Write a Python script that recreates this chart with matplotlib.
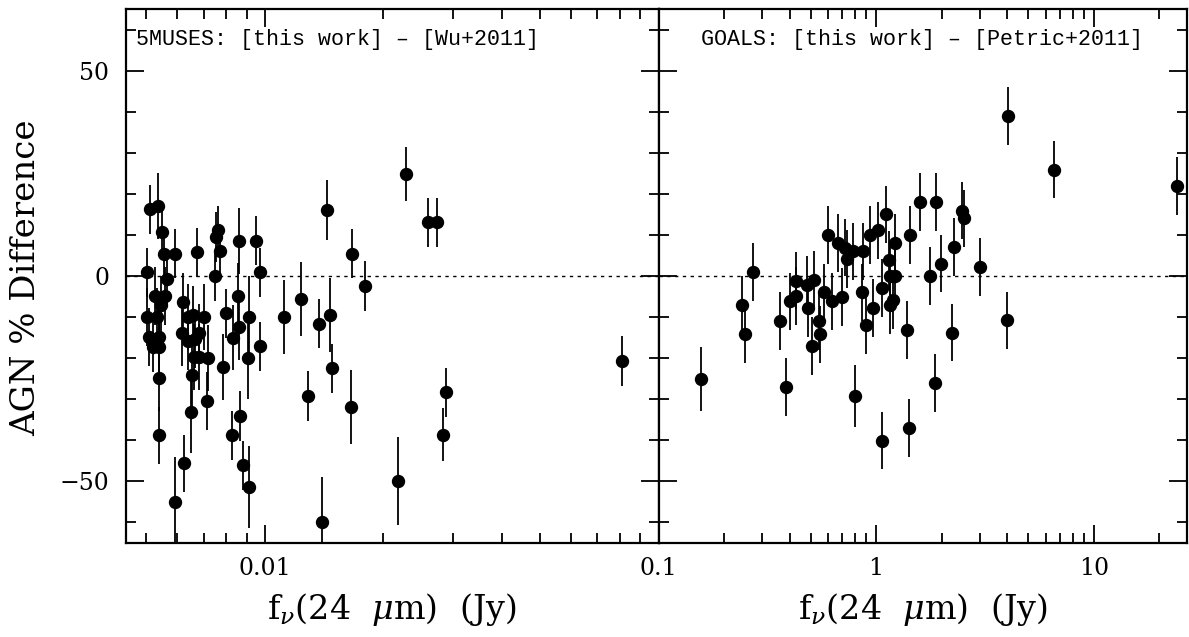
import matplotlib
matplotlib.use("Agg")
import matplotlib.pyplot as plt
from matplotlib.ticker import FixedLocator, NullFormatter, FixedFormatter

plt.rcParams['font.family'] = ['DejaVu Serif']
plt.rcParams['mathtext.fontset'] = 'dejavuserif'

# ---- 5MUSES panel data ----
muses_flux = [0.00502, 0.00512, 0.00538, 0.00549, 0.00556, 0.00593, 0.00565, 0.00528,
              0.00559, 0.00545, 0.00502, 0.00533, 0.00620, 0.00672, 0.00750, 0.00752,
              0.00760, 0.00773, 0.00860, 0.00950, 0.00974, 0.00855, 0.00797, 0.00915,
              0.01122, 0.01240, 0.00974, 0.00638, 0.00658, 0.00703, 0.00617, 0.00638,
              0.00683, 0.00665, 0.00830, 0.00860, 0.00510, 0.00540, 0.00520, 0.00540,
              0.00664, 0.00680, 0.00717, 0.00906, 0.00783, 0.00539, 0.00654, 0.00713,
              0.00650, 0.00867, 0.00539, 0.00827, 0.00625, 0.00883, 0.00912, 0.00593,
              0.01290, 0.01377, 0.01442, 0.01466, 0.01486, 0.01403, 0.01670, 0.01656,
              0.01800, 0.02180, 0.02280, 0.02600, 0.02740, 0.02880, 0.02840, 0.08100]
muses_diff = [0.9, 16.2, 17.1, 10.6, 5.4, 5.4, -0.8, -4.9,
              -4.9, -7.1, -10.0, -10.0, -6.3, 5.8, 0.0, 9.5,
              11.1, 6.0, 8.6, 8.6, 0.9, -4.9, -9.1, -10.0,
              -10.0, -5.6, -17.1, -10.0, -9.4, -10.0, -13.9, -15.8,
              -13.9, -15.3, -15.0, -12.4, -14.9, -14.9, -17.3, -17.3,
              -19.8, -19.8, -20.0, -20.0, -22.2, -24.9, -24.1, -30.4,
              -33.1, -34.1, -38.8, -38.8, -45.6, -46.1, -51.4, -55.1,
              -29.2, -11.6, 16.0, -9.4, -22.5, -59.9, 5.4, -31.8,
              -2.4, -49.9, 24.8, 13.1, 13.1, -28.3, -38.6, -20.7]
muses_err = [6, 6, 8, 6, 6, 6, 6, 7,
             7, 7, 7, 7, 7, 6, 6, 6,
             6, 6, 8, 6, 6, 8, 6, 10,
             9, 9, 6, 8, 7, 8, 8, 7,
             7, 7, 8, 8, 7, 7, 6, 6,
             8, 8, 8, 10, 8, 8, 8, 7,
             10, 6, 7, 6, 7, 6, 10, 11,
             6, 6, 7.3, 9, 6, 11, 6, 9,
             6, 10.8, 6.6, 6, 6, 6, 6.5, 6]

# ---- GOALS panel data ----
goals_flux = [0.156, 0.243, 0.251, 0.273, 0.360, 0.387, 0.400, 0.430, 0.427, 0.483,
              0.486, 0.519, 0.509, 0.546, 0.551, 0.574, 0.601, 0.630, 0.668, 0.700,
              0.718, 0.735, 0.783, 0.803, 0.861, 0.871, 0.895, 0.933, 0.968, 1.020,
              1.060, 1.066, 1.114, 1.145, 1.161, 1.216, 1.161, 1.196, 1.220, 1.387,
              1.416, 1.436, 1.585, 1.762, 1.858, 1.879, 1.995, 2.230, 2.280, 2.470,
              2.530, 3.000, 4.000, 4.040, 6.560, 24.0]
goals_diff = [-25.1, -7.1, -14.2, 1.0, -11.0, -27.0, -6.2, -4.9, -1.1, -2.2,
              -7.8, -1.0, -17.1, -11.0, -14.2, -4.0, 10.0, -6.2, 8.0, -5.1,
              6.9, 4.1, 6.0, -29.2, -4.0, 6.0, -12.0, 10.0, -7.8, 11.1,
              -40.1, -2.9, 15.0, 3.9, 0.0, 0.0, -7.1, -5.9, 8.0, -13.1,
              -37.0, 10.0, 18.0, 0.0, -26.0, 18.0, 3.0, -13.8, 7.1, 15.9,
              14.0, 2.2, -10.8, 38.9, 25.9, 21.9]
goals_err = [7.8, 7, 7, 7, 7, 7, 7, 7, 7, 7,
             7, 7, 7, 7, 7, 7, 7, 7, 7, 7,
             7, 7, 7, 7.5, 7, 7, 7, 7, 7, 7,
             7, 7, 7, 7, 7, 7, 7, 7, 7, 7,
             7, 7, 7, 7, 7, 7, 7, 7, 7, 7,
             7, 7, 7, 7, 7, 7]

left_major = [0.01, 0.1]
left_major_labels = ["0.01", ""]
left_minor = [0.005, 0.006, 0.007, 0.008, 0.009,
              0.02, 0.03, 0.04, 0.05, 0.06, 0.07, 0.08, 0.09]
right_major = [0.1, 1, 10]
right_major_labels = ["0.1", "1", "10"]
right_minor = [0.2, 0.3, 0.4, 0.5, 0.6, 0.7, 0.8, 0.9,
               2, 3, 4, 5, 6, 7, 8, 9, 20]
y_major = [-50, 0, 50]
y_major_labels = ["\u221250", "0", "50"]
y_minor = [-60, -40, -30, -20, -10, 10, 20, 30, 40, 60]

W, H = 1189, 637
fig = plt.figure(figsize=(W / 100, H / 100), dpi=100)
x0, xm, x1 = 126, 658.5, 1187
yt, yb = 9, 543
ax1 = fig.add_axes([x0 / W, 1 - yb / H, (xm - x0) / W, (yb - yt) / H])
ax2 = fig.add_axes([xm / W, 1 - yb / H, (x1 - xm) / W, (yb - yt) / H])

panels = [
    (ax1, muses_flux, muses_diff, muses_err, (0.00445, 0.1), left_major, left_major_labels,
     left_minor, "5MUSES: [this work] \u2013 [Wu+2011]", 0.019),
    (ax2, goals_flux, goals_diff, goals_err, (0.1, 26.8), right_major, right_major_labels,
     right_minor, "GOALS: [this work] \u2013 [Petric+2011]", 0.08),
]

for ax, fx, dy, er, xl, maj, majl, mino, title, tx in panels:
    ax.set_xscale('log')
    ax.set_xlim(*xl)
    ax.set_ylim(-65, 65)
    ax.axhline(0, color='black', lw=1.0, ls=(0, (2.4, 3.2)), zorder=1)
    ax.errorbar(fx, dy, yerr=er, fmt='o', color='black', ms=8.6, mec='black',
                elinewidth=1.3, capsize=0, zorder=3)
    ax.xaxis.set_major_locator(FixedLocator(maj))
    ax.xaxis.set_major_formatter(FixedFormatter(majl))
    ax.xaxis.set_minor_locator(FixedLocator(mino))
    ax.xaxis.set_minor_formatter(NullFormatter())
    ax.yaxis.set_major_locator(FixedLocator(y_major))
    ax.yaxis.set_minor_locator(FixedLocator(y_minor))
    ax.yaxis.set_minor_formatter(NullFormatter())
    ax.tick_params(which='both', direction='in', top=True, right=True, width=1.3,
                   labelsize=17)
    ax.tick_params(which='major', length=13)
    ax.tick_params(which='minor', length=7)
    ax.tick_params(axis='x', pad=10)
    ax.tick_params(axis='y', pad=12)
    for s in ax.spines.values():
        s.set_linewidth(1.6)
    ax.text(tx, 0.943, title, transform=ax.transAxes, ha='left', va='center',
            fontsize=15.6, family='Liberation Mono')
    ax.text(0.5, -0.125, r"f$_\nu$(24  $\mu$m)  (Jy)", transform=ax.transAxes,
            ha='center', va='center', fontsize=24)

ax1.yaxis.set_major_formatter(FixedFormatter(y_major_labels))
ax2.yaxis.set_major_formatter(NullFormatter())

fig.text(26 / W, 1 - 278 / H, "AGN % Difference", rotation=90, ha='center',
         va='center', fontsize=24.5)

fig.savefig("out.png", dpi=100)
